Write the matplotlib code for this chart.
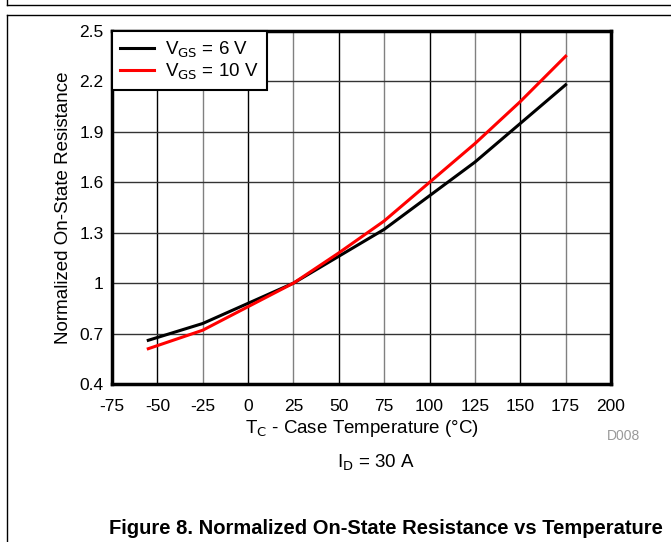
import matplotlib
matplotlib.use("Agg")
import matplotlib.pyplot as plt
from matplotlib.lines import Line2D

plt.rcParams['font.family'] = ['Liberation Sans', 'DejaVu Sans']
plt.rcParams['axes.unicode_minus'] = False

temp = [-55, -25, 0, 25, 50, 75, 100, 125, 150, 175]
r_vgs6 = [0.66, 0.76, 0.88, 1.0, 1.16, 1.32, 1.52, 1.72, 1.95, 2.18]
r_vgs10 = [0.61, 0.72, 0.86, 1.0, 1.18, 1.37, 1.60, 1.83, 2.08, 2.35]

x_ticks = [-75, -50, -25, 0, 25, 50, 75, 100, 125, 150, 175, 200]
y_ticks = [0.4, 0.7, 1.0, 1.3, 1.6, 1.9, 2.2, 2.5]
y_labels = ["0.4", "0.7", "1", "1.3", "1.6", "1.9", "2.2", "2.5"]

W, H = 671, 542
fig = plt.figure(figsize=(W / 100, H / 100), dpi=100)

# page frames
fig.add_artist(Line2D([7 / W, 7 / W], [1, 1 - 5 / H], color="black", lw=1))
fig.add_artist(Line2D([7 / W, 1], [1 - 5 / H, 1 - 5 / H], color="black", lw=1))
fig.add_artist(Line2D([7 / W, 7 / W], [0, 1 - 15 / H], color="black", lw=1))
fig.add_artist(Line2D([7 / W, 1], [1 - 15 / H, 1 - 15 / H], color="black", lw=1))

ax = fig.add_axes([112 / W, 1 - 384 / H, 499 / W, 353 / H])

ax.plot(temp, r_vgs6, color="black", lw=2.2, label="V$_{\\mathrm{GS}}$ = 6 V", zorder=3)
ax.plot(temp, r_vgs10, color="#ff0000", lw=2.2, label="V$_{\\mathrm{GS}}$ = 10 V", zorder=3)

ax.set_xlim(-75, 200)
ax.set_ylim(0.4, 2.5)
ax.set_xticks(x_ticks)
ax.set_yticks(y_ticks)
ax.set_yticklabels(y_labels)
ax.tick_params(length=0, labelsize=12.5)
ax.tick_params(axis="x", pad=11)
ax.tick_params(axis="y", pad=6)

for i, t in enumerate(x_ticks[1:-1]):
    ax.axvline(t, color="black" if i % 2 == 0 else "#808080", lw=1, zorder=1)
for v in y_ticks[1:-1]:
    ax.axhline(v, color="#333333", lw=1, zorder=1)

for s in ax.spines.values():
    s.set_linewidth(2.5)

ax.set_xlabel("T$_{\\mathrm{C}}$ - Case Temperature (\u00b0C)", fontsize=13.5, labelpad=3)
ax.set_ylabel("Normalized On-State Resistance", fontsize=13.5, labelpad=5)

leg = ax.legend(loc="upper left", fontsize=13.5, fancybox=False, framealpha=1,
                edgecolor="black", borderaxespad=0, handlelength=1.8,
                handletextpad=0.6, borderpad=0.45, labelspacing=0.1)
leg.get_frame().set_linewidth(1.5)
leg.set_zorder(5)

fig.text(624 / W, 1 - 436 / H, "D008", fontsize=10, color="#999999", ha="center", va="center")
fig.text(376 / W, 1 - 463 / H, "I$_{\\mathrm{D}}$ = 30 A", fontsize=13.5, ha="center", va="center")
fig.text(386 / W, 1 - 528 / H, "Figure 8. Normalized On-State Resistance vs Temperature",
         fontsize=14.5, fontweight="bold", ha="center", va="center")

fig.savefig("out.png", dpi=100)
